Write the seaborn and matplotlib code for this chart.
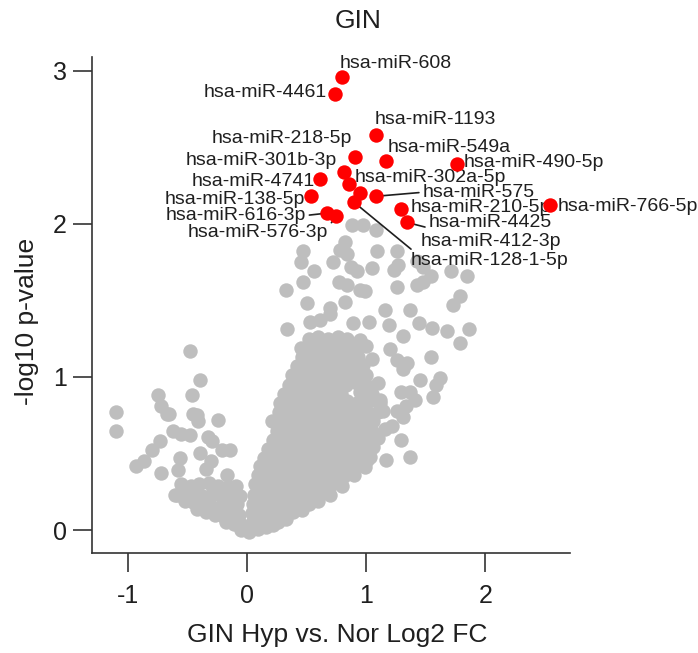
import matplotlib
matplotlib.use("Agg")
import matplotlib.pyplot as plt
import seaborn as sns
import pandas as pd

# ---------------- data ----------------
# highlighted miRNAs (log2 FC, -log10 p)
sig_names = ["hsa-miR-608", "hsa-miR-4461", "hsa-miR-1193", "hsa-miR-218-5p",
             "hsa-miR-549a", "hsa-miR-490-5p", "hsa-miR-301b-3p", "hsa-miR-4741",
             "hsa-miR-302a-5p", "hsa-miR-575", "hsa-miR-138-5p", "hsa-miR-210-5p",
             "hsa-miR-766-5p", "hsa-miR-616-3p", "hsa-miR-4425", "hsa-miR-576-3p",
             "hsa-miR-412-3p", "hsa-miR-128-1-5p"]
sig_fc = [0.80, 0.74, 1.08, 0.91, 1.17, 1.76, 0.81, 0.61, 0.86, 1.08, 0.54, 1.29,
          2.54, 0.67, 1.34, 0.75, 0.95, 0.90]
sig_p = [2.96, 2.85, 2.58, 2.44, 2.41, 2.39, 2.34, 2.29, 2.26, 2.18, 2.18, 2.10,
         2.12, 2.07, 2.01, 2.05, 2.20, 2.14]

# dense core of non-significant miRNAs (rows from bottom to top)
core_fc = [
    -0.05, 0.02, 0.09, 0.16, 0.22,
    -0.18, -0.11, -0.04, 0.05, 0.12, 0.19, 0.26, 0.33,
    -0.42, -0.34, -0.27, -0.20, -0.13, -0.07, 0.04, 0.11, 0.18, 0.25, 0.32, 0.39, 0.46,
    -0.52, -0.45, -0.38, -0.30, -0.22, -0.15, -0.08, 0.05, 0.12, 0.20, 0.28, 0.36, 0.44, 0.52, 0.60,
    -0.60, -0.53, -0.46, -0.38, -0.30, -0.22, -0.14, -0.06, 0.06, 0.13, 0.21, 0.29, 0.37, 0.45, 0.53, 0.61, 0.70,
    -0.55, -0.47, -0.40, -0.32, -0.24, -0.16, -0.09, 0.07, 0.15, 0.23, 0.31, 0.39, 0.47, 0.55, 0.63, 0.71, 0.80,
    0.09, 0.17, 0.25, 0.33, 0.41, 0.49, 0.57, 0.65, 0.73, 0.81, 0.90,
    0.11, 0.19, 0.27, 0.35, 0.43, 0.51, 0.59, 0.67, 0.75, 0.83, 0.91, 0.99,
    0.14, 0.22, 0.30, 0.38, 0.46, 0.54, 0.62, 0.70, 0.78, 0.86, 0.94, 1.03,
    0.18, 0.26, 0.34, 0.42, 0.50, 0.58, 0.66, 0.74, 0.82, 0.90, 0.98, 1.06,
    0.22, 0.30, 0.38, 0.46, 0.54, 0.62, 0.70, 0.78, 0.86, 0.94, 1.02, 1.10,
    0.25, 0.33, 0.41, 0.49, 0.57, 0.65, 0.73, 0.81, 0.89, 0.97, 1.05, 1.16,
    0.26, 0.34, 0.42, 0.50, 0.58, 0.66, 0.74, 0.82, 0.90, 0.98, 1.06,
    0.27, 0.35, 0.43, 0.51, 0.59, 0.67, 0.75, 0.83, 0.91, 1.00, 1.10,
    0.28, 0.36, 0.44, 0.52, 0.60, 0.68, 0.76, 0.84, 0.92, 1.02, 1.12,
    0.31, 0.39, 0.47, 0.55, 0.63, 0.71, 0.79, 0.95, 1.05,
    0.35, 0.43, 0.51, 0.59, 0.67, 0.75, 0.83, 0.92, 1.00, 1.10,
    0.38, 0.46, 0.54, 0.62, 0.70, 0.78, 0.86, 0.94, 1.00,
    0.42, 0.50, 0.58, 0.66, 0.74, 0.82, 0.90, 0.97,
    0.46, 0.54, 0.62, 0.70, 0.78, 0.86, 0.93, 1.05,
    0.45, 0.52, 0.60, 0.68, 0.76, 0.84, 0.92, 1.00,
    0.52, 0.60, 0.68, 0.76, 0.84, 0.95,
]
core_p = [
    0.00, -0.01, 0.01, 0.02, 0.03,
    0.05, 0.04, 0.03, 0.06, 0.05, 0.06, 0.05, 0.07,
    0.14, 0.12, 0.10, 0.09, 0.08, 0.10, 0.11, 0.12, 0.11, 0.12, 0.11, 0.12, 0.13,
    0.19, 0.18, 0.17, 0.16, 0.15, 0.16, 0.17, 0.17, 0.18, 0.17, 0.18, 0.17, 0.18, 0.17, 0.19,
    0.23, 0.24, 0.23, 0.22, 0.23, 0.22, 0.23, 0.22, 0.23, 0.24, 0.23, 0.24, 0.23, 0.24, 0.23, 0.24, 0.23,
    0.30, 0.29, 0.30, 0.31, 0.29, 0.28, 0.29, 0.30, 0.29, 0.30, 0.29, 0.30, 0.29, 0.30, 0.29, 0.30, 0.29,
    0.36, 0.35, 0.36, 0.35, 0.36, 0.35, 0.36, 0.35, 0.36, 0.35, 0.36,
    0.42, 0.41, 0.42, 0.41, 0.42, 0.41, 0.42, 0.41, 0.42, 0.41, 0.42, 0.41,
    0.47, 0.48, 0.47, 0.48, 0.47, 0.48, 0.47, 0.48, 0.47, 0.48, 0.47, 0.48,
    0.53, 0.54, 0.53, 0.54, 0.53, 0.54, 0.53, 0.54, 0.53, 0.54, 0.53, 0.54,
    0.59, 0.60, 0.59, 0.60, 0.59, 0.60, 0.59, 0.60, 0.59, 0.60, 0.59, 0.60,
    0.65, 0.66, 0.65, 0.66, 0.65, 0.66, 0.65, 0.66, 0.65, 0.66, 0.65, 0.66,
    0.71, 0.72, 0.71, 0.72, 0.71, 0.72, 0.71, 0.72, 0.71, 0.72, 0.71,
    0.77, 0.78, 0.77, 0.78, 0.77, 0.78, 0.77, 0.78, 0.77, 0.78, 0.77,
    0.83, 0.84, 0.83, 0.84, 0.83, 0.84, 0.83, 0.84, 0.83, 0.84, 0.83,
    0.89, 0.90, 0.89, 0.90, 0.89, 0.90, 0.89, 0.90, 0.89,
    0.95, 0.96, 0.95, 0.96, 0.95, 0.96, 0.95, 0.96, 0.95, 0.96,
    1.01, 1.02, 1.01, 1.02, 1.01, 1.02, 1.01, 1.02, 1.01,
    1.07, 1.08, 1.07, 1.08, 1.07, 1.08, 1.07, 1.08,
    1.13, 1.14, 1.13, 1.14, 1.13, 1.14, 1.13, 1.12,
    1.19, 1.20, 1.19, 1.20, 1.19, 1.20, 1.19, 1.20,
    1.25, 1.26, 1.25, 1.26, 1.25, 1.24,
]

# scattered non-significant miRNAs, down-regulated side
left_fc = [-1.10, -1.10, -0.48, -0.39, -0.75, -0.72, -0.65, -0.46, -0.42, -0.41, -0.24,
           -0.62, -0.55, -0.48, -0.73, -0.80, -0.33, -0.29, -0.21, -0.93, -0.86, -0.56,
           -0.39, -0.72, -0.58, -0.17, -0.59, -0.34, -0.30, -0.14, -0.67, -0.45]
left_p = [0.77, 0.65, 1.17, 0.98, 0.88, 0.81, 0.76, 0.88, 0.75, 0.71, 0.72,
          0.65, 0.63, 0.62, 0.58, 0.52, 0.61, 0.58, 0.52, 0.42, 0.45, 0.47,
          0.50, 0.37, 0.39, 0.36, 0.23, 0.40, 0.45, 0.52, 0.76, 0.76]

# scattered non-significant miRNAs, up-regulated side
right_fc = [0.88, 0.97, 1.08, 0.82, 0.47, 0.45, 0.78, 0.84, 1.09, 1.26, 0.72, 0.56,
            0.87, 0.92, 1.05, 1.23, 1.27, 1.43, 1.48, 1.54, 1.71, 1.85, 0.33, 0.47,
            0.77, 0.84, 0.95, 0.99, 1.26, 1.43, 1.48, 1.79, 1.73, 0.50, 0.70, 0.82,
            1.16, 1.37, 0.34, 0.53, 0.61, 0.70, 0.89, 1.02, 1.19, 1.31, 1.44, 1.55,
            1.68, 1.79, 1.86, 1.54, 1.20, 1.26, 1.62, 1.59, 1.56, 1.45, 1.34, 1.31,
            1.29, 1.37, 1.41, 1.26, 1.33, 1.31, 1.29, 1.37, 1.17, 1.22, 0.21, 1.12,
            1.14, 1.01]
right_p = [1.99, 1.99, 1.96, 1.88, 1.82, 1.75, 1.83, 1.80, 1.82, 1.82, 1.75, 1.69,
           1.72, 1.69, 1.71, 1.70, 1.73, 1.76, 1.72, 1.66, 1.69, 1.66, 1.57, 1.62,
           1.62, 1.60, 1.57, 1.56, 1.59, 1.60, 1.62, 1.53, 1.47, 1.48, 1.45, 1.49,
           1.44, 1.44, 1.31, 1.36, 1.37, 1.41, 1.35, 1.36, 1.34, 1.27, 1.35, 1.32,
           1.30, 1.22, 1.31, 1.13, 1.18, 1.11, 0.99, 0.95, 0.87, 0.98, 1.09, 1.05,
           0.90, 0.90, 0.85, 0.78, 0.81, 0.74, 0.59, 0.48, 0.46, 0.68, 0.71, 0.85,
           0.78, 0.46]

x_ticks = [-1, 0, 1, 2]
y_ticks = [0, 1, 2, 3]
title = "GIN"
x_label = "GIN Hyp vs. Nor Log2 FC"
y_label = "-log10 p-value"

# ---------------- label layout (text anchor, alignment, connector) ----------------
label_pos = [
    (0.78, 3.05, "left", None),
    (0.672, 2.856, "right", None),
    (1.067, 2.68, "left", None),
    (0.882, 2.556, "right", None),
    (1.176, 2.497, "left", None),
    (1.815, 2.399, "left", None),
    (0.756, 2.412, "right", None),
    (0.571, 2.275, "right", None),
    (0.899, 2.30, "left", None),
    (1.47, 2.206, "left", (0.0, 0.5)),
    (0.487, 2.158, "right", None),
    (1.37, 2.104, "left", None),
    (2.605, 2.111, "left", None),
    (0.496, 2.055, "right", (1.0, 0.5)),
    (1.521, 2.007, "left", (0.0, 0.2)),
    (0.681, 1.941, "right", (1.0, 0.85)),
    (1.454, 1.882, "left", None),
    (1.37, 1.758, "left", (0.03, 1.0)),
]

assert len(core_fc) == len(core_p)
assert len(left_fc) == len(left_p)
assert len(right_fc) == len(right_p)

grey = pd.DataFrame({"fc": core_fc + left_fc + right_fc,
                     "p": core_p + left_p + right_p})
sig = pd.DataFrame({"name": sig_names, "fc": sig_fc, "p": sig_p})

# ---------------- plot ----------------
sns.set_theme(style="ticks")
plt.rcParams["font.family"] = ["Liberation Sans", "DejaVu Sans"]
ink = "#1f1f1f"

fig = plt.figure(figsize=(6.98, 6.53), dpi=100)
ax = fig.add_axes([92 / 698, 1 - 553 / 653, 478 / 698, 496 / 653])

sns.scatterplot(data=grey, x="fc", y="p", color="#BEBEBE", s=108, linewidth=0,
                ax=ax, zorder=2, legend=False)
sns.scatterplot(data=sig, x="fc", y="p", color="#FF0000", s=108, linewidth=0,
                ax=ax, zorder=5, legend=False)

for (name, px, py), (tx, ty, ha, rel) in zip(zip(sig_names, sig_fc, sig_p), label_pos):
    kw = {}
    if rel is not None:
        kw["arrowprops"] = dict(arrowstyle="-", color=ink, lw=1.2, shrinkA=0,
                                shrinkB=0, relpos=rel)
    ax.annotate(name, xy=(px, py), xytext=(tx, ty), ha=ha, va="center",
                fontsize=14, color=ink, zorder=4, **kw)

ax.set_xlim(-1.30, 2.71)
ax.set_ylim(-0.15, 3.09)
ax.set_xticks(x_ticks)
ax.set_yticks(y_ticks)
ax.set_xticklabels([str(t) for t in x_ticks])
ax.set_yticklabels([str(t) for t in y_ticks])
sns.despine(ax=ax)
for s in ["left", "bottom"]:
    ax.spines[s].set_linewidth(1.2)
    ax.spines[s].set_color("#333333")
ax.tick_params(axis="both", length=14, width=1.2, color="#333333",
               labelsize=18, labelcolor=ink)
ax.tick_params(axis="x", pad=8)
ax.tick_params(axis="y", pad=4)

ax.set_xlabel(x_label, fontsize=19, color=ink)
ax.set_ylabel(y_label, fontsize=19, color=ink)
ax.xaxis.set_label_coords(0.513, -0.141)
ax.yaxis.set_label_coords(-0.11, 0.466)

fig.text(358 / 698, 1 - 21 / 653, title, ha="center", va="center",
         fontsize=19, color=ink)

fig.savefig("out.png", dpi=100)
